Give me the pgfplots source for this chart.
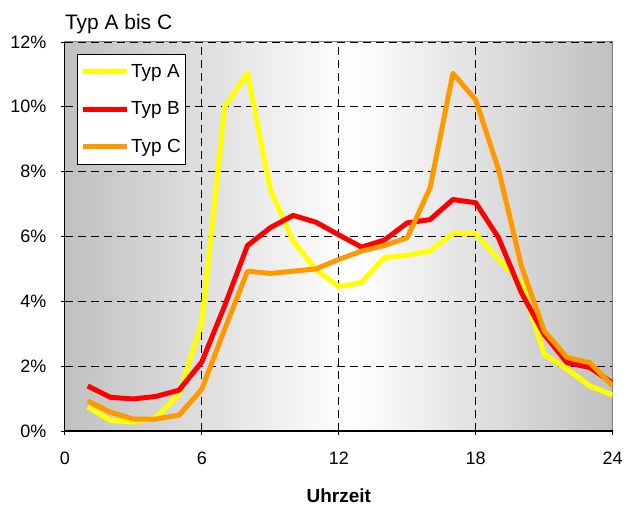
\documentclass[border=0pt]{standalone}
\usepackage{pgfplots}
\pgfplotsset{compat=1.18}
\usepackage{fontspec}
\setmainfont{Liberation Sans}
\definecolor{bggray}{HTML}{C0C0C0}
\definecolor{typA}{HTML}{FFFF00}
\definecolor{typB}{HTML}{FF0000}
\definecolor{typC}{HTML}{FF9900}
\begin{document}
\begin{tikzpicture}
\begin{axis}[
  set layers,
  scale only axis,
  width=549pt, height=390pt,
  xmin=0, xmax=24, ymin=0, ymax=12,
  xtick={0,6,12,18,24},
  ytick={0,2,4,6,8,10,12},
  xtick pos=bottom, ytick pos=left,
  tick align=center,
  major tick length=8pt,
  tick style={black, line width=0.8pt},
  yticklabel={\pgfmathprintnumber{\tick}\%},
  /pgf/number format/assume math mode=true,
  ticklabel style={font=\fontsize{18}{20}\selectfont},
  xticklabel style={yshift=-13pt},
  yticklabel style={xshift=-11pt},
  grid=major,
  major grid style={black, line width=0.8pt, dash pattern=on 8pt off 5pt},
  axis line style={draw=gray, line width=1.2pt},
  xlabel={\textbf{Uhrzeit}},
  xlabel style={font=\fontsize{19}{21}\selectfont, yshift=-18pt},
  legend cell align=left,
  legend style={at={(0.022,0.969)}, anchor=north west, draw=black, line width=0.8pt,
    font=\fontsize{19}{21}\selectfont, row sep=19pt, inner xsep=3pt, inner ysep=8pt},
  legend image code/.code={\draw[#1, line width=5pt] (0pt,0pt) -- (44pt,0pt);},
  every axis plot/.append style={line width=5pt, line join=round},
]
\begin{pgfonlayer}{axis background}
\shade[left color=bggray, right color=white] (axis cs:0,0) rectangle (axis cs:12.5,12);
\shade[left color=white, right color=bggray] (axis cs:12.5,0) rectangle (axis cs:24,12);
\end{pgfonlayer}
\addplot[typA] coordinates {
(1,0.74) (2,0.33) (3,0.28) (4,0.42) (5,1.14) (6,3.35) (7,10.0) (8,11.03)
(9,7.45) (10,5.86) (11,4.98) (12,4.45) (13,4.58) (14,5.35) (15,5.42) (16,5.55)
(17,6.09) (18,6.09) (19,5.29) (20,4.58) (21,2.37) (22,1.91) (23,1.39) (24,1.11)};
\addlegendentry{Typ A}
\addplot[typB] coordinates {
(1,1.39) (2,1.04) (3,0.99) (4,1.07) (5,1.26) (6,2.13) (7,3.86) (8,5.72)
(9,6.27) (10,6.65) (11,6.44) (12,6.05) (13,5.67) (14,5.89) (15,6.42) (16,6.52)
(17,7.14) (18,7.04) (19,5.96) (20,4.27) (21,2.98) (22,2.11) (23,1.96) (24,1.48)};
\addlegendentry{Typ B}
\addplot[typC] coordinates {
(1,0.93) (2,0.58) (3,0.37) (4,0.37) (5,0.49) (6,1.29) (7,3.14) (8,4.93)
(9,4.86) (10,4.93) (11,5.0) (12,5.29) (13,5.55) (14,5.72) (15,5.96) (16,7.5)
(17,11.03) (18,10.21) (19,8.06) (20,5.09) (21,3.09) (22,2.27) (23,2.11) (24,1.39)};
\addlegendentry{Typ C}
\begin{pgfonlayer}{axis lines}
\draw[black, line width=1.2pt] (rel axis cs:0,1) -- (rel axis cs:0,0) -- (rel axis cs:1,0);
\end{pgfonlayer}
\end{axis}
\node[anchor=base west, font=\fontsize{21}{23}\selectfont, inner sep=0pt] at ([yshift=12pt]current axis.north west) {Typ A bis C};
\path ([shift={(-65pt,-78pt)}]current axis.south west) rectangle ([shift={(12pt,42pt)}]current axis.north east);
\end{tikzpicture}
\end{document}
